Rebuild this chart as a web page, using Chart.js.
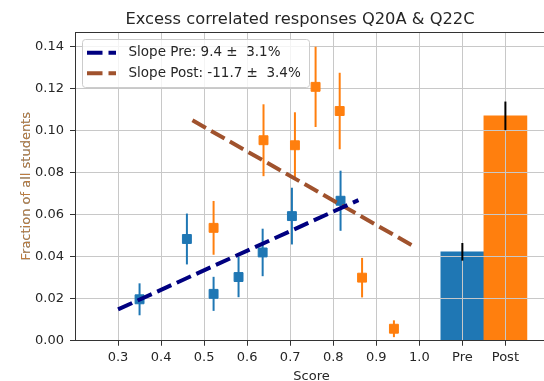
<!DOCTYPE html>
<html><head><meta charset="utf-8">
<script src="https://cdn.jsdelivr.net/npm/chart.js@4"></script>
<style>html,body{margin:0;padding:0;background:#fff;overflow:hidden}canvas{display:block}</style>
</head><body>
<canvas id="c" width="544" height="381"></canvas>
<script>
// ---- data ----
const chartTitle = 'Excess correlated responses Q20A & Q22C';
const xAxisLabel = 'Score';
const yAxisLabel = 'Fraction of all students';

const preScores = [0.350, 0.460, 0.522, 0.580, 0.636, 0.704, 0.817];
const preValues = [0.0196, 0.0483, 0.0222, 0.0302, 0.0419, 0.0592, 0.0665];
const preErrors = [0.0076, 0.0121, 0.0081, 0.0096, 0.0113, 0.0135, 0.0143];

const postScores = [0.522, 0.638, 0.711, 0.759, 0.815, 0.867, 0.941];
const postValues = [0.0536, 0.0953, 0.0929, 0.1207, 0.1092, 0.0299, 0.0056];
const postErrors = [0.0128, 0.0171, 0.0157, 0.0191, 0.0182, 0.0094, 0.0040];

const barCategories = ['Pre', 'Post'];
const barX = [1.1, 1.2];
const barValues = [0.0422, 0.1069];
const barErrors = [0.0042, 0.0068];

const preFitX = [0.300, 0.8586];
const preFitY = [0.0148, 0.0668];
const postFitX = [0.4729, 0.9917];
const postFitY = [0.1048, 0.0443];

const legendLabels = ['Slope Pre: 9.4 \u00b1  3.1%', 'Slope Post: -11.7 \u00b1  3.4%'];

const xTickValues = [0.3, 0.4, 0.5, 0.6, 0.7, 0.8, 0.9, 1.0, 1.1, 1.2];
const xTickLabels = ['0.3', '0.4', '0.5', '0.6', '0.7', '0.8', '0.9', '1.0', 'Pre', 'Post'];
const yTickValues = [0, 0.02, 0.04, 0.06, 0.08, 0.10, 0.12, 0.14];
const yTickLabels = ['0.00', '0.02', '0.04', '0.06', '0.08', '0.10', '0.12', '0.14'];

// ---- style ----
const FONT = "'DejaVu Sans', sans-serif";
const BLUE = '#1f77b4', ORANGE = '#ff7f0e', NAVY = '#000080', SIENNA = '#a0522d';
const TEXT = '#262626', AXIS = '#333333', GRID = '#c8c8c8';
const DASH = [15.5, 6];

const pts = (xs, ys) => xs.map((x, i) => ({x: x, y: ys[i]}));

const errorBarSets = [
  {xs: barX, ys: barValues, es: barErrors, color: '#000000'},
  {xs: preScores, ys: preValues, es: preErrors, color: BLUE},
  {xs: postScores, ys: postValues, es: postErrors, color: ORANGE}
];

const overlay = {
  id: 'overlay',
  afterDatasetDraw(chart, args) {
    if (args.index !== 0) return;
    const xs = chart.scales.x, ys = chart.scales.y, ctx = chart.ctx;
    // grid is drawn above the bars, below the other marks
    xs.drawGrid(chart.chartArea); ys.drawGrid(chart.chartArea);
    xs.drawBorder(); ys.drawBorder();
    ctx.save();
    ctx.lineWidth = 2; ctx.lineCap = 'butt';
    errorBarSets.forEach(s => {
      ctx.strokeStyle = s.color;
      s.xs.forEach((xv, i) => {
        const px = xs.getPixelForValue(xv);
        ctx.beginPath();
        ctx.moveTo(px, ys.getPixelForValue(s.ys[i] - s.es[i]));
        ctx.lineTo(px, ys.getPixelForValue(s.ys[i] + s.es[i]));
        ctx.stroke();
      });
    });
    ctx.restore();
  },
  afterDraw(chart) {
    const ctx = chart.ctx, a = chart.chartArea;
    ctx.save();
    // top spine
    ctx.strokeStyle = AXIS; ctx.lineWidth = 1;
    ctx.beginPath(); ctx.moveTo(a.left, Math.round(a.top) + 0.5); ctx.lineTo(a.right, Math.round(a.top) + 0.5); ctx.stroke();
    // legend
    const lx = 82.5, ly = 39.5, lw = 227, lh = 48;
    ctx.beginPath();
    ctx.roundRect(lx, ly, lw, lh, 3);
    ctx.fillStyle = 'rgba(255,255,255,0.8)'; ctx.fill();
    ctx.strokeStyle = '#cccccc'; ctx.lineWidth = 1; ctx.stroke();
    const rows = [52.7, 73.3], cols = [NAVY, SIENNA];
    rows.forEach((ry, i) => {
      ctx.strokeStyle = cols[i]; ctx.lineWidth = 4; ctx.setLineDash(DASH);
      ctx.beginPath(); ctx.moveTo(87, ry); ctx.lineTo(116, ry); ctx.stroke();
      ctx.setLineDash([]);
      ctx.fillStyle = TEXT; ctx.font = '13.5px ' + FONT;
      ctx.textAlign = 'left'; ctx.textBaseline = 'middle';
      ctx.fillText(legendLabels[i], 128.5, ry);
    });
    // title
    ctx.fillStyle = TEXT; ctx.font = '16.3px ' + FONT;
    ctx.textAlign = 'center'; ctx.textBaseline = 'alphabetic';
    ctx.fillText(chartTitle, 300, 24);
    // x label
    ctx.font = '13px ' + FONT;
    ctx.fillText(xAxisLabel, 311.5, 379.5);
    // y label (blue and orange labels overlaid)
    ctx.translate(30, (a.top + a.bottom) / 2);
    ctx.rotate(-Math.PI / 2);
    ctx.fillStyle = BLUE; ctx.fillText(yAxisLabel, 0, 0);
    ctx.globalAlpha = 0.7; ctx.fillStyle = ORANGE; ctx.fillText(yAxisLabel, 0, 0);
    ctx.restore();
  }
};

const tickFont = {family: FONT, size: 13};

new Chart(document.getElementById('c'), {
  type: 'scatter',
  data: {
    datasets: [
      {type: 'bar', label: 'bars', data: pts(barX, barValues),
       backgroundColor: [BLUE, ORANGE], borderWidth: 0,
       barPercentage: 1, categoryPercentage: 1, grouped: false, order: 3},
      {type: 'scatter', label: 'Pre', data: pts(preScores, preValues),
       pointStyle: 'rect', pointRadius: 6.3, backgroundColor: BLUE, borderColor: BLUE, borderWidth: 1, order: 2},
      {type: 'scatter', label: 'Post', data: pts(postScores, postValues),
       pointStyle: 'rect', pointRadius: 6.3, backgroundColor: ORANGE, borderColor: ORANGE, borderWidth: 1, order: 2},
      {type: 'line', label: legendLabels[0], data: pts(preFitX, preFitY),
       borderColor: NAVY, borderWidth: 4, borderDash: DASH, pointRadius: 0, fill: false, order: 1},
      {type: 'line', label: legendLabels[1], data: pts(postFitX, postFitY),
       borderColor: SIENNA, borderWidth: 4, borderDash: DASH, pointRadius: 0, fill: false, order: 1}
    ]
  },
  options: {
    responsive: false, animation: false, events: [],
    layout: {autoPadding: false, padding: {top: 32, left: 0, right: 0, bottom: 0}},
    plugins: {legend: {display: false}, tooltip: {enabled: false}, title: {display: false}},
    scales: {
      x: {
        type: 'linear', min: 0.2, max: 1.2897, offset: false,
        grid: {offset: false, color: GRID, lineWidth: 1, tickColor: AXIS, tickLength: 5},
        border: {color: AXIS, width: 1},
        afterBuildTicks: s => { s.ticks = xTickValues.map(v => ({value: v})); },
        afterFit: s => { s.height = 40.5; s.paddingLeft = 0; s.paddingRight = 0; },
        ticks: {font: tickFont, color: TEXT, padding: 4, autoSkip: false, maxRotation: 0,
          callback: v => { const i = xTickValues.findIndex(t => Math.abs(t - v) < 1e-9); return i >= 0 ? xTickLabels[i] : ''; }}
      },
      y: {
        type: 'linear', min: 0, max: 0.1468,
        grid: {color: GRID, lineWidth: 1, tickColor: AXIS, tickLength: 5},
        border: {color: AXIS, width: 1},
        afterBuildTicks: s => { s.ticks = yTickValues.map(v => ({value: v})); },
        afterFit: s => { s.width = 75; s.paddingTop = 0; s.paddingBottom = 0; },
        ticks: {font: tickFont, color: TEXT, padding: 6,
          callback: v => { const i = yTickValues.findIndex(t => Math.abs(t - v) < 1e-9); return i >= 0 ? yTickLabels[i] : ''; }}
      }
    }
  },
  plugins: [overlay]
});
</script>
</body></html>
